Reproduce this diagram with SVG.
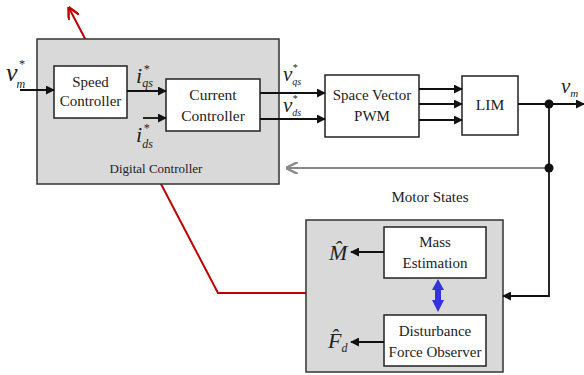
<svg xmlns="http://www.w3.org/2000/svg" width="584" height="375" viewBox="0 0 584 375">
<style>
.t{font-family:'Liberation Serif','DejaVu Serif',serif;font-size:15px;fill:#222;text-anchor:middle}
.m{font-family:'Liberation Serif','DejaVu Serif',serif;font-style:italic;fill:#222}
.box{fill:#fff;stroke:#222;stroke-width:1.5}
.gbox{fill:#d9d9d9;stroke:#333;stroke-width:1.5}
.w{fill:none;stroke:#111;stroke-width:1.8}
</style>
<defs>
<marker id="ah" viewBox="0 0 10 10" refX="9" refY="5" markerWidth="5" markerHeight="5" orient="auto" markerUnits="strokeWidth"><path d="M0,0L10,5L0,10z" fill="#111"/></marker>
<marker id="ahg" viewBox="0 0 10 10" refX="9" refY="5" markerWidth="6" markerHeight="6" orient="auto" markerUnits="strokeWidth"><path d="M0,0L10,5L0,10" fill="none" stroke="#888" stroke-width="2"/></marker>
<marker id="ahr" viewBox="0 0 10 10" refX="9" refY="5" markerWidth="6" markerHeight="6" orient="auto" markerUnits="strokeWidth"><path d="M0,0L10,5L0,10" fill="none" stroke="#c00000" stroke-width="2"/></marker>
</defs>
<rect width="584" height="375" fill="#fff"/>
<g id="red-link"><polyline points="306,293 218,293 69,8" fill="none" stroke="#c00000" stroke-width="2" marker-end="url(#ahr)"/></g>
<g id="digital-controller">
<rect class="gbox" x="37" y="39" width="242" height="145"/>
<text class="t" x="156" y="173" style="font-size:13px">Digital Controller</text>
</g>
<g id="speed-controller">
<rect class="box" x="54" y="66" width="73" height="52"/>
<text class="t" x="90.5" y="87">Speed</text>
<text class="t" x="90.5" y="106">Controller</text>
</g>
<g id="current-controller">
<rect class="box" x="166" y="79" width="94" height="52"/>
<text class="t" x="213" y="100" style="font-size:15.5px">Current</text>
<text class="t" x="213" y="121" style="font-size:15.5px">Controller</text>
</g>
<g id="svpwm">
<rect class="box" x="325" y="75" width="94" height="62"/>
<text class="t" x="372" y="100">Space Vector</text>
<text class="t" x="372" y="121">PWM</text>
</g>
<g id="lim">
<rect class="box" x="462" y="76" width="56" height="59"/>
<text class="t" x="490" y="110" style="font-size:15.5px">LIM</text>
</g>
<g id="observer">
<rect class="gbox" x="306" y="220" width="197" height="152"/>
</g>
<g id="mass-estimation">
<rect class="box" x="384" y="227" width="102" height="51"/>
<text class="t" x="435" y="247">Mass</text>
<text class="t" x="435" y="268">Estimation</text>
</g>
<g id="dfo">
<rect class="box" x="384" y="315" width="102" height="51"/>
<text class="t" x="435" y="336">Disturbance</text>
<text class="t" x="435" y="357">Force Observer</text>
</g>
<g id="connectors">
<line class="w" x1="20" y1="90" x2="54" y2="90" marker-end="url(#ah)"/>
<line class="w" x1="127" y1="91" x2="166" y2="91" marker-end="url(#ah)"/>
<line class="w" x1="143" y1="118" x2="166" y2="118" marker-end="url(#ah)"/>
<line class="w" x1="260" y1="93" x2="325" y2="93" marker-end="url(#ah)"/>
<line class="w" x1="260" y1="119" x2="325" y2="119" marker-end="url(#ah)"/>
<line class="w" x1="419" y1="89" x2="462" y2="89" marker-end="url(#ah)"/>
<line class="w" x1="419" y1="104" x2="462" y2="104" marker-end="url(#ah)"/>
<line class="w" x1="419" y1="120" x2="462" y2="120" marker-end="url(#ah)"/>
<line class="w" x1="518" y1="104" x2="584" y2="104" marker-end="url(#ah)"/>
<polyline class="w" points="549,104 549,296 503,296" marker-end="url(#ah)"/>
<line x1="549" y1="168" x2="287" y2="168" stroke="#888" stroke-width="2" marker-end="url(#ahg)"/>
<circle cx="549" cy="104" r="4.5" fill="#111"/>
<circle cx="549" cy="168" r="4.5" fill="#111"/>
<line class="w" x1="384" y1="252" x2="351" y2="252" marker-end="url(#ah)"/>
<line class="w" x1="384" y1="342" x2="351" y2="342" marker-end="url(#ah)"/>
<path d="M438,279 L444,290 L441,290 L441,300 L444,300 L438,312 L432,300 L435,300 L435,290 L432,290 Z" fill="#3333dd"/>
</g>
<g id="labels">
<text class="m" x="6" y="81" font-size="26">v<tspan font-size="12" dx="1" dy="-13">*</tspan><tspan font-size="12" dx="-8" dy="20">m</tspan></text>
<text class="m" x="136" y="83" font-size="22">i<tspan font-size="12" dx="1" dy="-10">*</tspan><tspan font-size="12" dx="-7" dy="14">qs</tspan></text>
<text class="m" x="136" y="142" font-size="22">i<tspan font-size="12" dx="1" dy="-10">*</tspan><tspan font-size="12" dx="-7" dy="16">ds</tspan></text>
<text class="m" x="283" y="81" font-size="21">v<tspan font-size="10" dx="0" dy="-10">*</tspan><tspan font-size="10" dx="-5" dy="14">qs</tspan></text>
<text class="m" x="283" y="112" font-size="21">v<tspan font-size="10" dx="0" dy="-10">*</tspan><tspan font-size="10" dx="-5" dy="14">ds</tspan></text>
<text class="m" x="561" y="93" font-size="21">v<tspan font-size="11" dx="0" dy="4">m</tspan></text>
<text class="t" x="430" y="202">Motor States</text>
<text class="m" x="329" y="260" font-size="22">M̂</text>
<text class="m" x="328" y="348" font-size="22">F̂<tspan font-size="12" dx="0" dy="4">d</tspan></text>
</g>
</svg>
